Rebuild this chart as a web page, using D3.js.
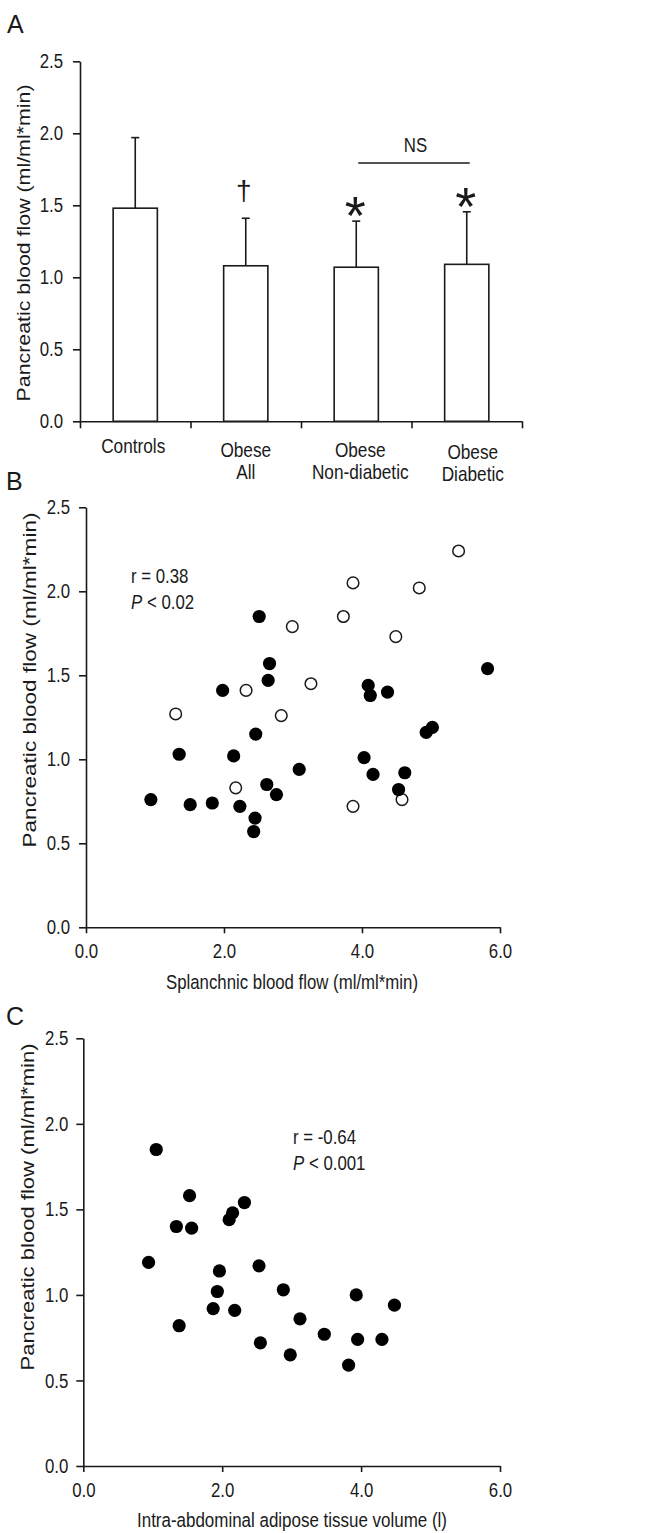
<!DOCTYPE html>
<html>
<head>
<meta charset="utf-8">
<script src="https://cdn.jsdelivr.net/npm/d3@7"></script>
<style>
  body { margin: 0; background: #fff; }
  svg { display: block; }
  text { fill: #1a1a1a; }
</style>
</head>
<body>
<div id="chart"></div>
<script>
// ---- data ----
const categories = ["Controls", "Obese All", "Obese Non-diabetic", "Obese Diabetic"];
const categoryLines = [["Controls"], ["Obese", "All"], ["Obese", "Non-diabetic"], ["Obese", "Diabetic"]];
const barMeans = [1.48, 1.08, 1.07, 1.09];
const barErrTop = [1.97, 1.41, 1.39, 1.455];
const barMarks = ["", "\u2020", "*", "*"];

const yTicks = [0, 0.5, 1.0, 1.5, 2.0, 2.5];
const xTicks = [0, 2, 4, 6];

// panel B: filled = obese, open = controls
const splanchObese = [2.51, 2.66, 2.64, 1.98, 4.09, 4.12, 4.37, 5.82, 4.93, 5.02, 2.46, 1.35, 2.14, 0.94, 1.51, 1.83, 2.23, 2.45, 2.43, 2.62, 2.76, 3.09, 4.03, 4.16, 4.53, 4.62];
const pbfObeseB    = [1.85, 1.57, 1.47, 1.41, 1.44, 1.38, 1.40, 1.54, 1.16, 1.19, 1.15, 1.03, 1.02, 0.76, 0.73, 0.74, 0.72, 0.65, 0.57, 0.85, 0.79, 0.94, 1.01, 0.91, 0.82, 0.92];
const splanchCtrl  = [5.40, 3.87, 4.83, 3.73, 2.99, 4.49, 3.26, 2.32, 1.30, 2.83, 2.17, 3.87, 4.58];
const pbfCtrlB     = [2.24, 2.05, 2.02, 1.85, 1.79, 1.73, 1.45, 1.41, 1.27, 1.26, 0.83, 0.72, 0.76];

// panel C
const iaatVolume = [1.05, 1.53, 2.32, 2.15, 2.10, 1.34, 1.56, 0.94, 2.53, 1.96, 1.93, 2.88, 3.93, 4.48, 1.87, 2.18, 1.38, 3.12, 3.47, 3.95, 4.30, 2.55, 2.98, 3.82];
const pbfC       = [1.85, 1.58, 1.54, 1.48, 1.44, 1.40, 1.39, 1.19, 1.17, 1.14, 1.02, 1.03, 1.00, 0.94, 0.92, 0.91, 0.82, 0.86, 0.77, 0.74, 0.74, 0.72, 0.65, 0.59];

const W = 649, H = 1533;
const font = "'Liberation Sans', Arial, sans-serif";
const ink = "#1a1a1a";
const squeezeF = 0.82;   // the original figure text looks condensed

const svg = d3.select("#chart").append("svg")
  .attr("width", W).attr("height", H);

// squeeze text horizontally to mimic the narrow look of the original
function squeeze(sel, f = squeezeF) {
  sel.each(function () {
    const L = this.getComputedTextLength();
    d3.select(this).attr("textLength", L * f).attr("lengthAdjust", "spacingAndGlyphs");
  });
}

function styleAxis(g) {
  g.select(".domain").attr("stroke", ink).attr("stroke-width", 1.6);
  g.selectAll(".tick line").attr("stroke", ink).attr("stroke-width", 1.6);
  g.selectAll(".tick text").attr("font-family", font).attr("font-size", 20.5).attr("fill", ink)
    .call(squeeze);
}

function panelLetter(t, x, y) {
  svg.append("text").attr("x", x).attr("y", y)
    .attr("font-family", font).attr("font-size", 25).text(t);
}

function yLabel(cx, cy, len) {
  svg.append("text")
    .attr("transform", `translate(${cx},${cy}) rotate(-90)`)
    .attr("text-anchor", "middle")
    .attr("font-family", font).attr("font-size", 17.5)
    .attr("textLength", len).attr("lengthAdjust", "spacingAndGlyphs")
    .text("Pancreatic blood flow (ml/ml*min)");
}

function xLabel(text, cx, y, len) {
  svg.append("text").attr("x", cx).attr("y", y).attr("text-anchor", "middle")
    .attr("font-family", font).attr("font-size", 20.5)
    .attr("textLength", len).attr("lengthAdjust", "spacingAndGlyphs")
    .text(text);
}

// ================= Panel A =================
panelLetter("A", 7, 33);

const yA = d3.scaleLinear().domain([0, 2.5]).range([421.3, 61.3]);
const xA = d3.scaleBand().domain(categories).range([80, 522])
  .paddingInner(0.6).paddingOuter(0.3);
const xAticks = d3.scaleLinear().domain([0, 4]).range([80, 522]);

svg.append("g").attr("transform", "translate(80,0)")
  .call(d3.axisLeft(yA).tickValues(yTicks).tickFormat(d3.format(".1f")).tickSize(7).tickPadding(10).tickSizeOuter(0))
  .call(styleAxis);

svg.append("g").attr("transform", `translate(0,${yA(0)})`)
  .call(d3.axisBottom(xAticks).tickValues([0, 1, 2, 3, 4]).tickFormat("").tickSize(7).tickSizeOuter(0))
  .call(styleAxis);

const barG = svg.append("g");
categories.forEach((c, i) => {
  const x0 = xA(c), bw = xA.bandwidth(), cx = x0 + bw / 2;
  const top = yA(barErrTop[i]);
  // upper error bar
  barG.append("line").attr("x1", cx).attr("x2", cx)
    .attr("y1", yA(barMeans[i])).attr("y2", top)
    .attr("stroke", ink).attr("stroke-width", 1.6);
  barG.append("line").attr("x1", cx - 4).attr("x2", cx + 4)
    .attr("y1", top).attr("y2", top)
    .attr("stroke", ink).attr("stroke-width", 1.6);
  barG.append("rect")
    .attr("x", x0).attr("y", yA(barMeans[i]))
    .attr("width", bw).attr("height", yA(0) - yA(barMeans[i]))
    .attr("fill", "#fff").attr("stroke", ink).attr("stroke-width", 1.6);
  // significance marks
  if (barMarks[i] === "\u2020") {
    barG.append("text").attr("x", cx - 2).attr("y", top - 18)
      .attr("text-anchor", "middle").attr("font-family", font).attr("font-size", 28)
      .text(barMarks[i]);
  } else if (barMarks[i] === "*") {
    barG.append("text").attr("x", cx - 1).attr("y", top + 13)
      .attr("text-anchor", "middle").attr("font-family", font).attr("font-size", 54)
      .text(barMarks[i]);
  }
  // category labels
  const shift = i === 3 ? 6 : i === 2 ? 4 : i === 0 ? -2 : 0;
  const base = i === 0 ? 453 : i === 3 ? 459 : 457;
  categoryLines[i].forEach((line, j) => {
    barG.append("text").attr("text-anchor", "middle")
      .attr("x", cx + shift).attr("y", base + j * 21.5)
      .attr("font-family", font).attr("font-size", 21)
      .text(line)
      .call(squeeze);
  });
});

// NS bracket between non-diabetic and diabetic
{
  const a = xA(categories[2]) + xA.bandwidth() / 2, b = xA(categories[3]) + xA.bandwidth() / 2;
  svg.append("line").attr("x1", a + 2).attr("x2", b + 3).attr("y1", 163).attr("y2", 163)
    .attr("stroke", ink).attr("stroke-width", 1.6);
  svg.append("text").attr("x", (a + b) / 2 + 4).attr("y", 152)
    .attr("text-anchor", "middle").attr("font-family", font).attr("font-size", 20.5).text("NS")
    .call(squeeze);
}

yLabel(30, 243, 317);

// ================= Panel B =================
panelLetter("B", 6, 490);

const xB = d3.scaleLinear().domain([0, 6]).range([86, 500]);
const yB = d3.scaleLinear().domain([0, 2.5]).range([927.3, 507.3]);

svg.append("g").attr("transform", "translate(86,0)")
  .call(d3.axisLeft(yB).tickValues(yTicks).tickFormat(d3.format(".1f")).tickSize(7).tickPadding(9).tickSizeOuter(0))
  .call(styleAxis);
svg.append("g").attr("transform", `translate(0,${yB(0)})`)
  .call(d3.axisBottom(xB).tickValues(xTicks).tickFormat(d3.format(".1f")).tickSize(6).tickPadding(10).tickSizeOuter(0))
  .call(styleAxis);

svg.append("g").selectAll("circle")
  .data(splanchCtrl.map((x, i) => [x, pbfCtrlB[i]]))
  .join("circle")
  .attr("cx", d => xB(d[0])).attr("cy", d => yB(d[1])).attr("r", 5.8)
  .attr("fill", "#fff").attr("stroke", ink).attr("stroke-width", 1.5);

svg.append("g").selectAll("circle")
  .data(splanchObese.map((x, i) => [x, pbfObeseB[i]]))
  .join("circle")
  .attr("cx", d => xB(d[0])).attr("cy", d => yB(d[1])).attr("r", 6.6)
  .attr("fill", "#000");

{
  svg.append("text").attr("x", 131).attr("y", 583)
    .attr("font-family", font).attr("font-size", 20.5).text("r = 0.38").call(squeeze);
  const t2 = svg.append("text").attr("x", 131).attr("y", 609)
    .attr("font-family", font).attr("font-size", 20.5);
  t2.append("tspan").attr("font-style", "italic").text("P");
  t2.append("tspan").text(" < 0.02");
  t2.call(squeeze);
}

yLabel(36, 680, 335);
xLabel("Splanchnic blood flow (ml/ml*min)", 292, 989, 252);

// ================= Panel C =================
panelLetter("C", 6, 1025);

const xC = d3.scaleLinear().domain([0, 6]).range([83.3, 500]);
const yC = d3.scaleLinear().domain([0, 2.5]).range([1466, 1038.3]);

svg.append("g").attr("transform", "translate(83.3,0)")
  .call(d3.axisLeft(yC).tickValues(yTicks).tickFormat(d3.format(".1f")).tickSize(7).tickPadding(8).tickSizeOuter(0))
  .call(styleAxis);
svg.append("g").attr("transform", `translate(0,${yC(0)})`)
  .call(d3.axisBottom(xC).tickValues(xTicks).tickFormat(d3.format(".1f")).tickSize(6).tickPadding(10).tickSizeOuter(0))
  .call(styleAxis);

svg.append("g").selectAll("circle")
  .data(iaatVolume.map((x, i) => [x, pbfC[i]]))
  .join("circle")
  .attr("cx", d => xC(d[0])).attr("cy", d => yC(d[1])).attr("r", 6.6)
  .attr("fill", "#000");

{
  svg.append("text").attr("x", 293).attr("y", 1144)
    .attr("font-family", font).attr("font-size", 20.5).text("r = -0.64").call(squeeze);
  const t2 = svg.append("text").attr("x", 293).attr("y", 1170)
    .attr("font-family", font).attr("font-size", 20.5);
  t2.append("tspan").attr("font-style", "italic").text("P");
  t2.append("tspan").text(" < 0.001");
  t2.call(squeeze);
}

yLabel(34, 1207, 327);
xLabel("Intra-abdominal  adipose  tissue volume  (l)", 292, 1527, 310);
</script>
</body>
</html>
